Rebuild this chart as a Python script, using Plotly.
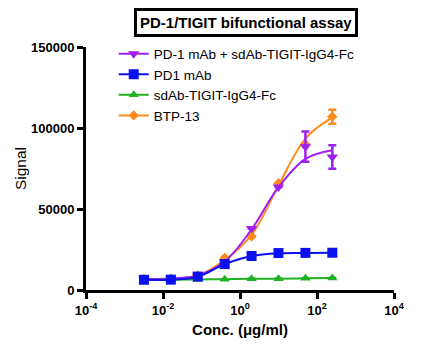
import plotly.graph_objects as go

conc = [0.0032, 0.016, 0.08, 0.4, 2, 10, 50, 250]

names = ["PD-1 mAb + sdAb-TIGIT-IgG4-Fc", "PD1 mAb", "sdAb-TIGIT-IgG4-Fc", "BTP-13"]

combo_vals = [6900, 7100, 9000, 17500, 37900, 63600, 88500, 82100]
combo_err = [0, 0, 0, 0, 0, 0, 9300, 7200]
combo_fit = [6900, 7100, 9000, 17500, 37500, 63500, 81000, 86300]

pd1_vals = [6300, 6400, 8300, 16000, 21000, 22800, 22900, 23000]
pd1_err = [0, 0, 0, 0, 0, 0, 0, 0]
pd1_fit = [6300, 6400, 8200, 16000, 21000, 22700, 22900, 23000]

tigit_vals = [6200, 6300, 6500, 6700, 6900, 7000, 7200, 7400]
tigit_err = [0, 0, 0, 0, 0, 0, 0, 0]
tigit_fit = [6200, 6300, 6500, 6700, 6900, 7000, 7200, 7400]

btp_vals = [6800, 7000, 9000, 19800, 33100, 65900, 90000, 107000]
btp_err = [0, 0, 0, 0, 0, 0, 0, 4300]
btp_fit = [6800, 7000, 9000, 18500, 34000, 64500, 93500, 106500]

x_tickvals = [1e-4, 1e-2, 1, 1e2, 1e4]
x_ticktext = ["10<sup>-4</sup>", "10<sup>-2</sup>", "10<sup>0</sup>", "10<sup>2</sup>", "10<sup>4</sup>"]
y_tickvals = [0, 50000, 100000, 150000]
y_ticktext = ["0", "50000", "100000", "150000"]

colors = ["#A020F0", "#0A10F0", "#20B020", "#FF8C1A"]
symbols = ["triangle-down", "square", "triangle-up", "diamond"]
sizes = [10, 10, 9, 8]

series = {
    0: (combo_vals, combo_err, combo_fit),
    1: (pd1_vals, pd1_err, pd1_fit),
    2: (tigit_vals, tigit_err, tigit_fit),
    3: (btp_vals, btp_err, btp_fit),
}

fig = go.Figure()
draw_order = [3, 0, 2, 1]
for i in draw_order:
    vals, err, fit = series[i]
    fig.add_trace(go.Scatter(
        x=conc, y=fit, mode="lines", line=dict(color=colors[i], width=2, shape="spline", smoothing=1.0),
        showlegend=False, hoverinfo="skip"))
    fig.add_trace(go.Scatter(
        x=conc, y=vals, mode="markers",
        marker=dict(color=colors[i], symbol=symbols[i], size=sizes[i]),
        error_y=dict(type="data", array=err, visible=True, color=colors[i], thickness=2.5, width=4),
        showlegend=False))

for i in range(4):
    fig.add_trace(go.Scatter(
        x=[None], y=[None], mode="lines+markers", name=names[i],
        line=dict(color=colors[i], width=2),
        marker=dict(color=colors[i], symbol=symbols[i], size=sizes[i]),
        legendrank=i + 1))

font_family = "Liberation Sans, Arial, sans-serif"

fig.update_layout(
    width=440, height=352,
    margin=dict(l=86, r=46, t=47, b=62),
    paper_bgcolor="white", plot_bgcolor="white",
    font=dict(family=font_family, color="black"),
    showlegend=True,
    legend=dict(x=0.09, y=1.035, xanchor="left", yanchor="top",
                font=dict(size=13.5, family=font_family, color="black"),
                bgcolor="rgba(0,0,0,0)", tracegroupgap=0),
    xaxis=dict(type="log", range=[-4, 4], tickvals=x_tickvals, ticktext=x_ticktext,
               showline=True, linewidth=3, linecolor="black", ticks="outside",
               ticklen=6, tickwidth=2.5, tickcolor="black", showgrid=False, zeroline=False,
               tickfont=dict(size=13, family=font_family, weight="bold"),
               title=dict(text="Conc. (μg/ml)", font=dict(size=15, family=font_family, weight="bold"), standoff=8)),
    yaxis=dict(range=[0, 150000], tickvals=y_tickvals, ticktext=y_ticktext,
               showline=True, linewidth=3, linecolor="black", ticks="outside",
               ticklen=6, tickwidth=2.5, tickcolor="black", showgrid=False, zeroline=False,
               tickfont=dict(size=13, family=font_family, weight="bold"),
               title=dict(text="Signal", font=dict(size=15.5, family=font_family), standoff=1)),
    annotations=[dict(text="PD-1/TIGIT bifunctional assay", xref="paper", yref="paper",
                      x=0.518, y=1.101, xanchor="center", yanchor="middle", showarrow=False,
                      font=dict(size=15, family=font_family, weight="bold", color="black"),
                      bordercolor="black", borderwidth=3, borderpad=3, bgcolor="white")],
)

fig.write_html("out.html")
